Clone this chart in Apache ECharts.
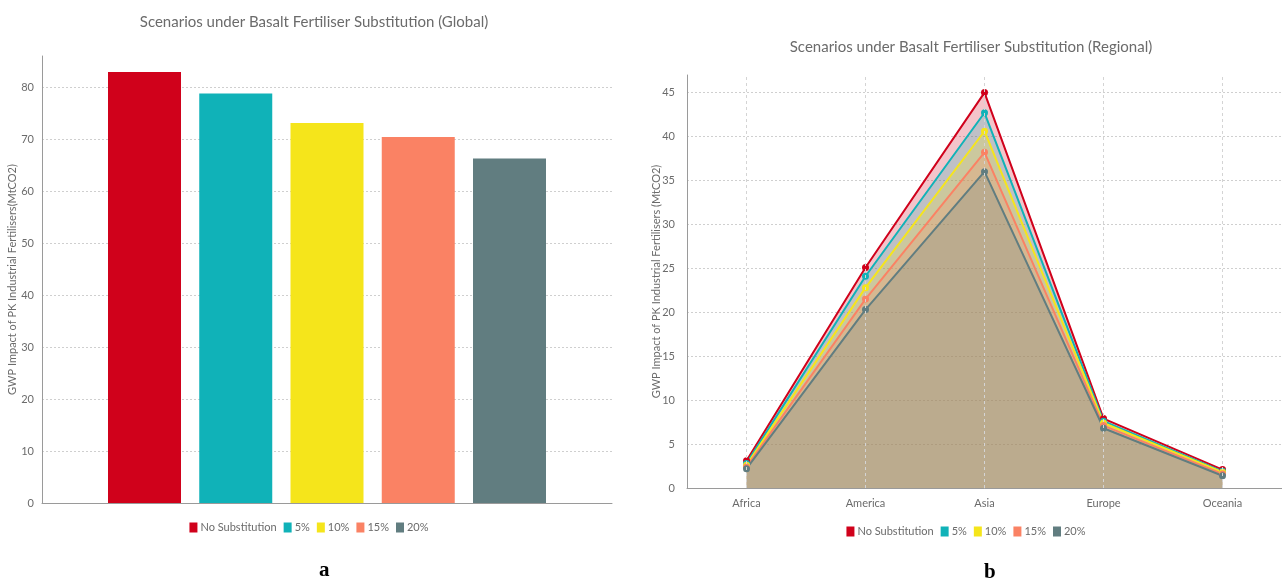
<!DOCTYPE html>
<html>
<head>
<meta charset="utf-8">
<script src="https://cdn.jsdelivr.net/npm/echarts@6/dist/echarts.min.js"></script>
<style>
html,body{margin:0;padding:0;background:#fff;width:1282px;height:586px;overflow:hidden;}
#a{position:absolute;left:0;top:0;width:618px;height:586px;}
#b{position:absolute;left:650px;top:0;width:632px;height:586px;}
</style>
</head>
<body>
<div id="a"></div>
<div id="b"></div>
<script>
// ---- data ----
const scenarios = ['No Substitution', '5%', '10%', '15%', '20%'];
const colors = ['#d0011b', '#10b2b8', '#f5e51b', '#fa8264', '#617d80'];
const globalValues = [82.9, 78.8, 73.1, 70.4, 66.3];
const regions = ['Africa', 'America', 'Asia', 'Europe', 'Oceania'];
const regNoSub = [3.1, 25.1, 45.0, 7.9, 2.1];
const reg5 = [2.8, 24.1, 42.7, 7.6, 1.9];
const reg10 = [2.6, 22.8, 40.6, 7.4, 1.8];
const reg15 = [2.4, 21.5, 38.2, 7.1, 1.6];
const reg20 = [2.2, 20.3, 36.0, 6.8, 1.4];
const regional = [regNoSub, reg5, reg10, reg15, reg20];
const globalTitle = 'Scenarios under Basalt Fertiliser Substitution (Global)';
const regionalTitle = 'Scenarios under Basalt Fertiliser Substitution (Regional)';
const globalYName = 'GWP Impact of PK Industrial Fertilisers(MtCO2)';
const regionalYName = 'GWP Impact of PK Industrial Fertilisers (MtCO2)';

const FONT = "Lato, sans-serif";
const TXT = '#6b6b6b';

// ---- chart a ----
const ca = echarts.init(document.getElementById('a'), null, {renderer: 'canvas'});
ca.setOption({
  animation: false,
  textStyle: {fontFamily: FONT},
  title: {text: globalTitle, left: 309, top: 10, textAlign: 'center',
    textStyle: {fontFamily: FONT, fontSize: 15, fontWeight: 'normal', color: TXT}},
  legend: {data: scenarios, left: 'center', top: 517, itemWidth: 8, itemHeight: 10, itemGap: 7,
    icon: 'rect', textStyle: {fontFamily: FONT, fontSize: 11, color: TXT, padding: [0,0,0,-2]}},
  grid: {left: 42, top: 56, width: 570, height: 447, containLabel: false, outerBoundsMode: 'none'},
  xAxis: {type: 'category', data: ['Global'], axisLabel: {show: false}, axisTick: {show: false},
    axisLine: {lineStyle: {color: '#9a9a9a'}}},
  yAxis: {type: 'value', min: 0, max: 86, interval: 10,
    name: globalYName, nameLocation: 'middle', nameGap: 24, nameMoveOverlap: false,
    nameTextStyle: {fontFamily: FONT, fontSize: 11, color: TXT},
    axisLine: {show: true, lineStyle: {color: '#9a9a9a'}},
    axisTick: {show: false},
    axisLabel: {showMaxLabel: false, fontFamily: FONT, fontSize: 11, color: TXT, margin: 8},
    splitLine: {showMaxLine: false, lineStyle: {color: '#cfcfcf', type: [2, 2]}}},
  series: scenarios.map((s, i) => ({
    name: s, type: 'bar', data: [globalValues[i]], barWidth: 73, barGap: '25%',
    itemStyle: {color: colors[i]}
  })),
  graphic: [{type: 'text', left: 319, top: 560,
    style: {text: 'a', font: 'bold 21px "Liberation Serif", serif', fill: '#000'}}]
});

// ---- chart b ----
const cb = echarts.init(document.getElementById('b'), null, {renderer: 'canvas'});
cb.setOption({
  animation: false,
  textStyle: {fontFamily: FONT},
  title: {text: regionalTitle, left: 316, top: 35, textAlign: 'center',
    textStyle: {fontFamily: FONT, fontSize: 15, fontWeight: 'normal', color: TXT}},
  legend: {data: scenarios, left: 'center', top: 521, itemWidth: 8, itemHeight: 10, itemGap: 7,
    icon: 'rect', textStyle: {fontFamily: FONT, fontSize: 11, color: TXT, padding: [0,0,0,-2]}},
  grid: {left: 37, top: 75, width: 595, height: 413, containLabel: false, outerBoundsMode: 'none'},
  xAxis: {type: 'category', data: regions, boundaryGap: true,
    axisTick: {show: false},
    axisLine: {lineStyle: {color: '#9a9a9a'}},
    axisLabel: {fontFamily: FONT, fontSize: 11, color: TXT, margin: 10},
    splitLine: {show: false}},
  yAxis: {type: 'value', min: 0, max: 47, interval: 5,
    name: regionalYName, nameLocation: 'middle', nameGap: 25, nameMoveOverlap: false,
    nameTextStyle: {fontFamily: FONT, fontSize: 11, color: TXT},
    axisLine: {show: true, lineStyle: {color: '#9a9a9a'}},
    axisTick: {show: false},
    axisLabel: {showMaxLabel: false, fontFamily: FONT, fontSize: 11, color: TXT, margin: 12},
    splitLine: {showMaxLine: false, lineStyle: {color: '#cfcfcf', type: [2, 2]}}},
  series: scenarios.map((s, i) => ({
    name: s, type: 'line', data: regional[i], symbol: 'circle', symbolSize: 7,
    itemStyle: {color: colors[i]},
    lineStyle: {color: colors[i], width: 2},
    areaStyle: {color: colors[i], opacity: 0.23},
    markLine: i === 0 ? {silent: true, symbol: 'none', label: {show: false},
      lineStyle: {color: '#d4d4d4', type: [3, 3], width: 1},
      data: regions.map(r => ({xAxis: r}))} : undefined
  })),
  graphic: [{type: 'text', left: 334, top: 562,
    style: {text: 'b', font: 'bold 21px "Liberation Serif", serif', fill: '#000'}}]
});
</script>
</body>
</html>
